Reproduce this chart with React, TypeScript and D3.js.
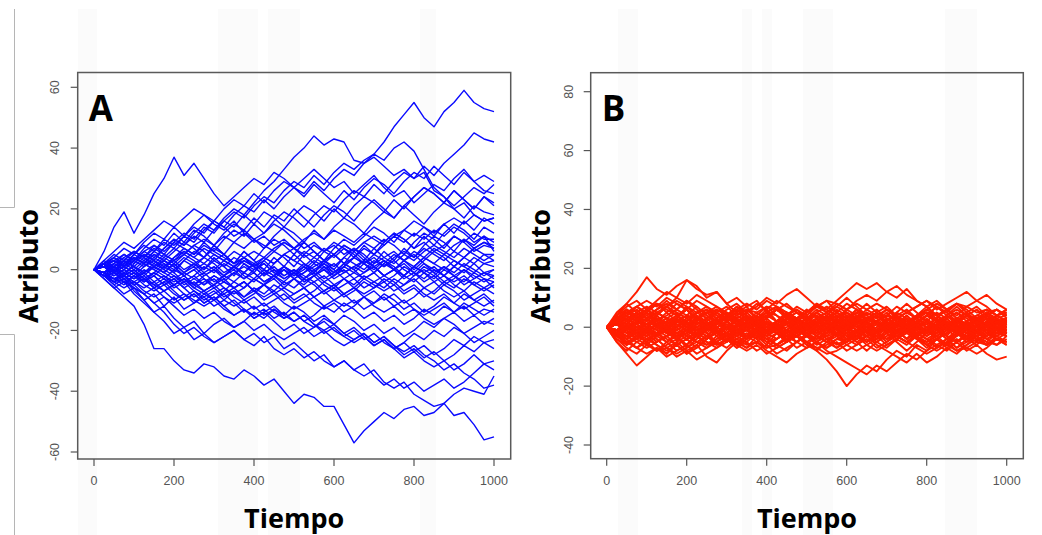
import React from "react";
import * as d3 from "d3";

// Time steps (every 25 units of Tiempo)
const tiempo: number[] = [0,25,50,75,100,125,150,175,200,225,250,275,300,325,350,375,400,425,450,475,500,525,550,575,600,625,650,675,700,725,750,775,800,825,850,875,900,925,950,975,1000];

const ticksX: number[] = [0, 200, 400, 600, 800, 1000];
const ticksYA: number[] = [-60, -40, -20, 0, 20, 40, 60];
const ticksYB: number[] = [-40, -20, 0, 20, 40, 60, 80];

// Panel A: Brownian-motion trajectories
const trayectoriasA: number[][] = [
  [0,2,-1,3,6,4,8,5,9,12,10,14,12,16,19,17,21,24,22,26,29,27,31,28,32,35,33,36,38,42,47,51,55,50,47,52,55,59,55,53,52],
  [0,6,14,19,12,18,25,30,37,31,35,30,25,21,24,27,30,28,32,30,27,30,33,30,27,29,25,28,31,27,24,26,22,25,28,26,30,33,29,31,29],
  [0,-2,1,4,2,5,3,7,10,8,12,15,13,17,20,18,22,26,29,33,37,40,44,41,43,42,36,35,37,34,31,33,30,32,26,24,20,22,18,16,17],
  [0,3,1,-2,2,5,3,0,4,7,5,9,6,10,13,11,15,12,16,19,17,14,18,21,19,23,26,24,28,25,29,32,30,34,31,35,38,41,45,43,42],
  [0,2,4,1,5,8,6,10,8,11,9,13,16,14,18,21,19,23,20,24,27,25,29,26,30,33,31,35,38,36,40,42,39,33,27,24,21,24,27,25,28],
  [0,-1,2,5,3,7,10,8,12,9,13,11,8,12,15,13,17,14,18,16,20,17,14,18,21,19,16,20,23,20,17,21,24,27,25,22,26,23,20,24,22],
  [0,1,-2,0,3,1,4,2,-1,3,6,4,8,5,9,12,10,7,11,14,12,9,13,10,14,17,15,12,16,19,17,21,18,15,19,22,20,17,21,19,18],
  [0,-1,1,-2,0,-3,-1,2,0,3,1,4,7,5,2,6,3,7,10,8,5,9,6,3,7,10,8,11,14,12,9,13,16,14,11,15,12,16,13,17,15],
  [0,2,0,3,1,-2,1,-1,2,5,3,0,4,1,-2,2,-1,3,6,4,1,5,2,6,9,7,4,8,5,9,12,10,7,11,8,12,15,13,10,14,12],
  [0,-2,-4,-1,-3,0,-2,1,-1,-4,-2,1,-1,2,0,3,1,-2,2,5,3,6,4,7,5,2,6,3,7,10,8,5,9,12,10,7,11,9,12,10,10],
  [0,1,3,1,4,2,5,3,6,9,7,4,8,5,2,6,3,0,4,1,5,2,-1,3,0,4,7,5,2,6,3,7,4,8,11,9,6,10,7,9,8],
  [0,-1,-3,-5,-2,-4,-1,-3,0,-2,-5,-3,-6,-4,-1,-3,0,2,-1,1,-2,0,3,1,-2,1,4,2,-1,2,5,3,0,3,6,4,1,4,7,5,5],
  [0,2,4,2,5,3,1,4,2,-1,1,-2,0,3,1,-2,-4,-1,-3,0,-2,1,-1,2,0,-3,-1,2,0,3,1,-2,1,4,2,5,3,1,4,2,3],
  [0,-2,0,-3,-1,-4,-2,-5,-3,-6,-4,-7,-5,-2,-4,-1,-3,0,-2,1,-1,2,0,-3,-1,2,0,3,1,-2,0,-3,-1,2,0,-2,1,-1,2,-1,0],
  [0,1,-1,2,0,3,6,4,7,5,8,6,3,5,2,4,1,-2,0,-3,-1,-4,-2,1,-1,2,0,-3,-1,-4,-2,1,-1,-4,-2,-5,-3,0,-2,-4,-2],
  [0,-1,1,-1,-3,-1,-4,-2,-5,-3,-6,-8,-6,-9,-7,-10,-8,-5,-7,-4,-6,-3,-5,-8,-6,-9,-7,-4,-6,-3,-5,-8,-6,-9,-7,-4,-6,-3,-5,-7,-5],
  [0,2,5,3,6,4,2,5,3,0,2,-1,1,-2,0,-3,-1,-4,-2,-5,-3,-6,-4,-7,-5,-8,-6,-9,-7,-10,-8,-11,-9,-6,-8,-5,-7,-10,-8,-6,-8],
  [0,-2,-4,-6,-4,-7,-9,-7,-10,-8,-11,-9,-12,-10,-7,-9,-6,-8,-5,-7,-10,-8,-11,-13,-11,-14,-12,-9,-11,-8,-10,-13,-11,-14,-12,-9,-11,-8,-10,-12,-10],
  [0,1,-1,-3,-1,-4,-2,-5,-3,-6,-9,-7,-10,-8,-11,-14,-12,-15,-13,-16,-14,-17,-15,-12,-14,-11,-13,-16,-14,-17,-15,-18,-16,-13,-15,-12,-14,-11,-13,-15,-13],
  [0,-1,-3,-2,-5,-3,-6,-4,-7,-10,-8,-11,-9,-12,-15,-13,-16,-14,-17,-20,-18,-21,-19,-16,-18,-15,-17,-20,-18,-21,-19,-22,-20,-17,-19,-16,-18,-21,-19,-17,-18],
  [0,-2,-5,-8,-6,-10,-14,-12,-16,-19,-17,-21,-18,-16,-19,-17,-14,-16,-13,-15,-12,-14,-17,-15,-18,-21,-19,-22,-25,-23,-26,-24,-21,-23,-20,-22,-19,-21,-24,-22,-20],
  [0,1,3,1,-1,-3,-5,-3,-6,-4,-7,-9,-7,-10,-12,-10,-13,-11,-14,-16,-14,-17,-19,-17,-20,-22,-20,-23,-21,-24,-26,-24,-27,-25,-28,-26,-23,-25,-22,-24,-23],
  [0,-2,-4,-3,-6,-8,-11,-9,-12,-15,-13,-16,-14,-17,-19,-17,-20,-18,-21,-23,-21,-19,-22,-20,-23,-25,-23,-21,-24,-22,-25,-28,-26,-29,-27,-30,-28,-25,-27,-24,-26],
  [0,1,-1,-4,-2,-5,-7,-5,-8,-10,-8,-11,-9,-12,-10,-13,-15,-13,-16,-14,-17,-15,-18,-21,-19,-22,-24,-22,-25,-23,-26,-29,-27,-30,-32,-30,-33,-31,-28,-31,-30],
  [0,-3,-6,-4,-8,-11,-14,-17,-21,-19,-23,-21,-24,-22,-20,-23,-21,-24,-22,-26,-24,-27,-30,-28,-32,-30,-33,-35,-33,-37,-39,-37,-41,-43,-45,-44,-48,-47,-51,-56,-55],
  [0,-3,-6,-9,-12,-18,-26,-26,-30,-33,-34,-31,-32,-35,-36,-33,-35,-38,-36,-40,-44,-41,-42,-45,-45,-51,-57,-53,-50,-47,-49,-46,-45,-48,-47,-44,-41,-39,-40,-41,-35],
  [0,-1,-4,-2,-5,-8,-11,-14,-18,-21,-19,-22,-24,-22,-20,-23,-25,-22,-26,-28,-26,-29,-27,-30,-32,-30,-33,-31,-35,-38,-36,-39,-37,-40,-38,-36,-39,-37,-34,-31,-33],
  [0,2,0,-2,-4,-2,-5,-7,-5,-8,-10,-12,-10,-13,-15,-13,-16,-14,-12,-15,-17,-15,-18,-20,-18,-21,-23,-21,-24,-22,-25,-27,-25,-28,-30,-33,-31,-34,-36,-39,-38],
  [0,1,4,7,5,9,12,10,14,11,15,18,16,20,23,21,25,22,26,29,27,24,28,25,22,26,23,27,30,28,25,29,32,30,34,31,28,32,29,26,25],
  [0,-1,2,0,3,6,4,7,10,8,11,9,13,16,14,18,15,19,17,14,18,21,19,16,20,17,21,24,22,19,23,20,24,27,25,22,26,23,20,24,21],
  [0,3,6,9,7,10,13,16,14,17,20,18,15,13,16,12,9,11,8,10,7,9,6,3,5,2,4,7,5,8,11,9,12,10,13,11,14,12,9,11,6],
  [0,-2,-5,-3,-7,-10,-8,-12,-9,-13,-11,-8,-10,-7,-4,-6,-3,-5,-2,-4,-1,-3,0,2,-1,1,4,2,5,3,0,2,-1,-3,0,-2,1,4,2,5,3],
  [0,2,-1,1,4,2,6,9,7,11,14,12,16,14,11,13,10,12,15,13,10,7,9,6,8,5,7,4,1,3,0,-2,1,-1,-4,-2,-5,-7,-4,-6,-4],
  [0,-1,1,3,1,4,1,-1,2,-1,-3,-5,-2,-4,-6,-4,-7,-5,-8,-6,-3,-5,-2,0,-2,1,-1,-3,-1,2,0,3,6,4,7,5,8,10,8,11,9],
  [0,-2,-1,-3,-5,-3,-6,-4,-2,-5,-3,-1,-4,-2,1,-1,2,4,2,5,3,1,4,2,5,8,6,9,7,4,6,3,5,2,-1,1,-2,0,-3,-1,-3],
  [0,1,0,2,4,2,0,3,1,-2,0,-3,-5,-3,-6,-9,-7,-10,-8,-11,-13,-11,-9,-12,-10,-8,-11,-9,-12,-14,-12,-15,-13,-16,-18,-16,-14,-17,-15,-18,-16],
  [0,-1,-2,0,-2,1,3,1,4,6,4,7,5,3,6,4,2,-1,1,-2,0,-2,-4,-2,-5,-3,-6,-8,-6,-4,-7,-5,-3,-6,-4,-7,-9,-7,-10,-8,-11],
  [0,2,1,-1,1,-1,2,0,-2,-4,-2,-5,-3,-6,-8,-6,-3,-5,-2,0,-3,-1,1,3,1,4,2,0,3,1,4,6,4,7,5,3,6,4,7,9,7],
  [0,-1,-3,-2,-4,-6,-4,-7,-5,-3,-5,-2,0,-2,1,3,1,4,2,5,7,5,8,6,4,7,5,2,4,1,3,0,-2,1,-1,-4,-2,-5,-3,-1,-2],
  [0,2,3,5,3,6,8,6,9,7,5,8,6,4,2,4,1,3,0,-2,0,-3,-1,-4,-2,0,-3,-1,1,-2,0,3,1,4,2,0,3,1,-1,2,1],
  [0,-2,-1,1,-1,2,0,-2,-4,-2,-5,-7,-5,-8,-6,-4,-7,-9,-7,-10,-8,-6,-9,-7,-5,-8,-6,-3,-5,-7,-5,-2,-4,-1,-3,0,-2,-4,-1,-3,-4],
  [0,1,3,1,3,5,3,1,3,6,4,2,5,3,1,4,6,4,7,9,7,10,12,10,13,11,9,12,10,8,11,13,11,14,12,15,17,15,18,16,17],
  [0,-1,0,-2,0,-3,-1,-3,-5,-3,-6,-4,-2,-4,-6,-4,-7,-5,-3,-6,-8,-6,-9,-7,-10,-12,-10,-13,-11,-9,-12,-10,-13,-15,-13,-11,-14,-12,-15,-13,-14],
  [0,2,0,2,4,2,5,3,1,4,2,4,2,-1,1,-1,2,0,-2,1,-1,1,-2,0,-3,-1,1,-1,2,4,2,5,3,6,8,6,4,7,5,3,5],
  [0,-2,-3,-1,-3,-1,1,-1,-3,-1,2,0,3,1,4,2,0,2,-1,-3,-1,-4,-2,-5,-7,-5,-3,-6,-4,-2,-4,-7,-5,-8,-10,-8,-11,-13,-11,-9,-12],
  [0,1,2,4,6,4,7,5,3,5,8,10,8,11,9,7,10,8,6,9,7,4,6,3,5,8,6,9,11,9,12,10,7,9,6,8,11,9,6,8,7],
  [0,-1,-3,-4,-6,-8,-6,-9,-11,-9,-7,-10,-8,-6,-9,-11,-9,-12,-10,-8,-11,-9,-7,-4,-6,-3,-5,-2,-4,-6,-3,-5,-2,0,-2,1,-1,2,0,-2,0],
  [0,2,1,3,1,-1,1,3,1,-2,0,2,0,-3,-1,1,-1,-4,-2,0,-3,-1,2,0,2,-1,1,3,1,-2,0,-2,1,-1,1,-2,-4,-2,-5,-3,-6],
];

// Panel B: Ornstein-Uhlenbeck trajectories
const trayectoriasB: number[][] = [
  [0,4,8,12,17,13,11,14,16,13,11,12,8,5,7,3,6,2,4,0,3,-1,2,5,3,0,2,-2,1,3,0,-3,-1,2,0,3,1,-2,1,-1,2],
  [0,-5,-9,-13,-10,-7,-9,-5,-8,-6,-10,-12,-8,-5,-7,-3,-6,-2,-4,-1,-3,1,-2,0,-3,-1,2,-1,1,-2,0,-3,-1,-4,-2,0,-2,1,-1,-3,-1],
  [0,2,5,3,6,4,1,3,0,2,5,3,6,8,5,7,10,8,11,13,10,7,9,5,3,6,2,4,1,3,-1,1,-2,0,2,-1,1,3,0,2,0],
  [0,-2,-4,-1,-3,0,-2,1,-1,-3,0,-2,1,-1,-3,-5,-2,-4,-1,-3,-6,-8,-11,-15,-20,-16,-13,-15,-11,-8,-10,-6,-8,-4,-6,-2,-4,-1,-3,0,-2],
  [0,3,1,4,2,5,3,0,2,-1,1,3,0,2,4,1,3,6,4,7,5,8,6,9,12,15,13,15,12,10,13,9,7,4,6,3,5,2,4,1,3],
  [0,-1,-3,0,-2,1,-1,-4,-2,0,-2,-5,-3,-1,-3,0,-2,-4,-2,-5,-7,-5,-8,-10,-12,-14,-16,-13,-15,-12,-9,-11,-8,-6,-8,-5,-3,-5,-2,0,-2],
  [0,1,-1,2,0,-2,0,3,1,-1,1,-1,-3,-1,1,-1,2,0,-2,0,-3,-1,1,-1,-3,-5,-3,-6,-8,-10,-12,-9,-12,-10,-7,-9,-6,-4,-6,-3,-5],
  [0,2,4,6,3,5,7,4,6,3,5,2,4,1,3,0,2,-1,1,3,0,2,4,1,3,5,2,4,6,3,5,7,9,6,8,10,12,9,11,8,6],
  [0,-2,0,-3,-1,1,-1,-3,-1,1,-1,2,0,-2,0,-3,-1,1,-1,-3,-1,1,-1,-3,-1,2,0,-2,0,-3,-5,-3,-6,-4,-7,-5,-8,-6,-9,-11,-10],
  [0,-3,-1,-4,-2,-5,-3,-6,-4,-2,-4,-1,-3,-5,-7,-5,-8,-10,-12,-9,-7,-5,-7,-4,-2,-4,-1,-3,0,-2,1,-1,-3,-1,1,-1,-3,-1,1,-1,-2],
  [0,2,1,4,6,9,12,10,16,14,10,12,8,10,7,9,5,7,4,6,3,5,2,4,1,3,0,2,-1,1,3,0,2,-1,1,3,0,2,4,1,3],
  [0,1,3,1,-1,1,3,5,3,1,3,5,2,4,6,3,5,2,4,6,4,7,5,8,6,9,11,9,12,14,11,9,7,9,6,8,5,7,4,6,4],
  [0,2,-1,1,3,1,-2,0,2,4,2,5,3,1,3,0,-2,0,2,-1,1,3,1,4,2,0,-2,0,3,1,-1,1,4,2,0,2,-1,1,3,1,0],
  [0,-1,1,-2,0,-3,-5,-3,-1,-3,0,-2,-4,-2,1,-1,-3,-1,2,0,-2,-4,-2,0,2,0,-3,-1,1,-1,-4,-2,0,-2,1,-1,-3,-1,2,0,-1],
  [0,3,5,7,5,8,6,4,6,3,5,7,5,3,5,2,4,6,4,2,4,1,3,5,3,6,4,2,4,7,5,3,5,2,4,6,4,2,5,3,4],
  [0,-3,-5,-7,-5,-8,-6,-4,-6,-3,-5,-7,-5,-3,-5,-2,-4,-6,-4,-7,-5,-3,-5,-2,-4,-6,-4,-7,-5,-3,-5,-2,-4,-6,-4,-7,-5,-3,-6,-4,-5],
  [0,1,3,5,7,5,3,1,-1,-3,-1,1,3,5,3,1,-1,1,3,5,3,6,4,2,0,-2,0,2,4,2,0,-2,-4,-2,0,2,4,2,0,-2,0],
  [0,-1,-3,-5,-7,-5,-3,-1,1,3,1,-1,-3,-5,-3,-1,1,-1,-3,-5,-3,-6,-4,-2,0,2,0,-2,-4,-2,0,2,4,2,0,-2,-4,-2,0,2,0],
  [0,2,4,2,0,2,5,8,6,9,7,5,7,4,2,4,1,-1,1,-2,0,2,0,3,5,3,6,8,6,4,6,3,1,3,0,-2,0,2,4,2,3],
  [0,-2,-4,-2,0,-2,-5,-8,-6,-9,-7,-5,-7,-4,-2,-4,-1,1,-1,2,0,-2,0,-3,-5,-3,-6,-8,-6,-4,-6,-3,-1,-3,0,2,0,-2,-4,-2,-3],
  [0,1,0,2,1,3,1,4,2,5,3,6,4,7,5,8,6,9,7,5,3,4,2,0,1,-1,-3,-2,-4,-3,-1,-2,0,1,-1,2,0,3,1,4,2],
  [0,-1,0,-2,-1,-3,-1,-4,-2,-5,-3,-6,-4,-7,-5,-8,-6,-9,-7,-5,-3,-4,-2,0,-1,1,3,2,4,3,1,2,0,-1,1,-2,0,-3,-1,-4,-2],
  [0,3,1,-2,0,-3,-1,2,4,1,3,0,-2,1,-1,2,4,2,5,3,1,-1,1,-2,0,3,1,-1,2,4,2,0,-2,0,3,5,3,1,-1,1,0],
  [0,-3,-1,2,0,3,1,-2,-4,-1,-3,0,2,-1,1,-2,-4,-2,-5,-3,-1,1,-1,2,0,-3,-1,1,-2,-4,-2,0,2,0,-3,-5,-3,-1,1,-1,0],
  [0,4,6,3,5,2,0,-2,0,-3,-1,1,4,6,8,6,9,7,5,3,0,-2,0,3,6,8,6,4,1,-1,1,4,6,8,6,3,1,-1,2,4,6],
  [0,-4,-6,-3,-5,-2,0,2,0,3,1,-1,-4,-6,-8,-6,-9,-7,-5,-3,0,2,0,-3,-6,-8,-6,-4,-1,1,-1,-4,-6,-8,-6,-3,-1,1,-2,-4,-6],
  [0,2,0,-2,-4,-6,-8,-6,-9,-7,-4,-2,0,2,4,2,0,-2,-1,1,3,5,7,5,8,6,3,1,-1,-3,-5,-3,-6,-4,-2,0,2,4,6,4,5],
  [0,-2,0,2,4,6,8,6,9,7,4,2,0,-2,-4,-2,0,2,1,-1,-3,-5,-7,-5,-8,-6,-3,-1,1,3,5,3,6,4,2,0,-2,-4,-6,-4,-5],
  [0,1,-1,0,-2,1,-1,2,0,-1,1,-2,0,-1,2,0,1,-1,0,2,-1,1,0,-2,1,-1,0,2,-1,1,-1,0,2,0,-1,1,-2,0,1,-1,0],
  [0,3,5,4,6,8,7,9,7,5,6,4,2,3,1,-1,0,-2,-4,-3,-5,-7,-6,-4,-5,-3,-1,-2,0,2,1,3,5,4,6,8,7,5,6,4,5],
  [0,-3,-5,-4,-6,-8,-7,-9,-7,-5,-6,-4,-2,-3,-1,1,0,2,4,3,5,7,6,4,5,3,1,2,0,-2,-1,-3,-5,-4,-6,-8,-7,-5,-6,-4,-5],
  [0,2,3,1,-1,-2,0,2,1,3,5,6,4,2,1,3,5,4,2,0,-1,1,3,2,0,-2,-3,-1,1,0,2,4,5,3,1,0,2,4,3,1,2],
  [0,-2,-3,-1,1,2,0,-2,-1,-3,-5,-6,-4,-2,-1,-3,-5,-4,-2,0,1,-1,-3,-2,0,2,3,1,-1,0,-2,-4,-5,-3,-1,0,-2,-4,-3,-1,-2],
  [0,1,4,7,9,7,10,8,6,3,1,-1,-3,-1,1,-2,-4,-6,-4,-2,1,3,5,7,5,2,0,-2,1,3,5,7,9,7,4,2,0,-2,-4,-2,-3],
  [0,-1,-4,-7,-9,-7,-10,-8,-6,-3,-1,1,3,1,-1,2,4,6,4,2,-1,-3,-5,-7,-5,-2,0,2,-1,-3,-5,-7,-9,-7,-4,-2,0,2,4,2,3],
  [0,2,5,3,1,4,7,10,8,11,9,7,4,6,3,1,-1,1,-2,0,2,5,3,6,4,1,-1,-4,-2,1,-1,2,4,7,5,8,6,3,5,2,1],
  [0,-2,-5,-3,-1,-4,-7,-10,-8,-11,-9,-7,-4,-6,-3,-1,1,-1,2,0,-2,-5,-3,-6,-4,-1,1,4,2,-1,1,-2,-4,-7,-5,-8,-6,-3,-5,-2,-1],
  [0,1,2,0,-1,1,3,2,4,3,1,0,2,4,6,5,7,6,4,3,5,7,9,8,6,4,3,5,3,1,2,0,-1,1,0,2,4,3,5,6,4],
  [0,-1,-2,0,1,-1,-3,-2,-4,-3,-1,0,-2,-4,-6,-5,-7,-6,-4,-3,-5,-7,-9,-8,-6,-4,-3,-5,-3,-1,-2,0,1,-1,0,-2,-4,-3,-5,-6,-4],
  [0,4,2,5,3,0,2,-1,1,-2,-4,-1,-3,0,2,5,3,6,4,1,3,0,-2,1,-1,-3,-5,-2,-4,-1,1,4,2,5,3,0,-2,1,-1,2,0],
  [0,3,-1,2,5,2,-1,3,6,2,-1,2,-2,1,4,1,-2,2,5,2,-1,3,0,-3,1,4,1,-2,2,-1,-4,0,3,0,-3,1,4,1,-2,1,3],
  [0,-3,1,-2,-5,-2,1,-3,-6,-2,1,-2,2,-1,-4,-1,2,-2,-5,-2,1,-3,0,3,-1,-4,-1,2,-2,1,4,0,-3,0,3,-1,-4,-1,2,-1,-3],
  [0,5,8,5,3,6,9,6,4,7,4,1,4,7,4,1,-2,1,4,1,-2,-5,-2,1,-2,-5,-8,-5,-2,1,4,1,-2,1,4,7,4,1,4,6,3],
  [0,-5,-8,-5,-3,-6,-9,-6,-4,-7,-4,-1,-4,-7,-4,-1,2,-1,-4,-1,2,5,2,-1,2,5,8,5,2,-1,-4,-1,2,-1,-4,-7,-4,-1,-4,-6,-3],
  [0,2,6,3,0,-3,0,3,7,4,1,-2,-5,-2,1,4,7,4,1,-2,-5,-8,-5,-2,1,4,1,-2,-5,-2,1,4,7,4,1,-2,-5,-2,1,3,1],
  [0,-2,-6,-3,0,3,0,-3,-7,-4,-1,2,5,2,-1,-4,-7,-4,-1,2,5,8,5,2,-1,-4,-1,2,5,2,-1,-4,-7,-4,-1,2,5,2,-1,-3,-1],
  [0,1,4,2,5,8,5,2,0,-3,-6,-3,0,3,0,-3,-1,2,5,3,6,3,0,-2,-5,-2,1,-1,2,5,8,5,2,-1,-4,-1,2,0,3,1,2],
  [0,-1,-4,-2,-5,-8,-5,-2,0,3,6,3,0,-3,0,3,1,-2,-5,-3,-6,-3,0,2,5,2,-1,1,-2,-5,-8,-5,-2,1,4,1,-2,0,-3,-1,-2],
  [0,2,0,3,1,4,7,5,3,0,2,-1,-3,-6,-4,-1,-3,0,3,5,3,1,4,7,10,7,4,6,3,0,-2,1,-1,-4,-2,1,-1,2,0,-2,1],
  [0,-2,0,-3,-1,-4,-7,-5,-3,0,-2,1,3,6,4,1,3,0,-3,-5,-3,-1,-4,-7,-4,-1,-3,0,2,5,3,1,4,2,0,-2,1,-1,2,4,2],
  [0,3,6,4,1,-1,2,4,1,-2,0,3,5,2,-1,1,4,6,3,0,-2,1,3,0,-3,-1,2,4,1,-2,0,3,5,2,-1,1,4,6,3,0,2],
  [0,-3,-6,-4,-1,1,-2,-4,-1,2,0,-3,-5,-2,1,-1,-4,-6,-3,0,2,-1,-3,0,3,1,-2,-4,-1,2,0,-3,-5,-2,1,-1,-4,-6,-3,0,-2],
  [0,1,-2,-4,-2,-5,-3,0,3,5,7,4,2,-1,1,-2,-5,-7,-5,-2,0,3,5,3,0,-2,-5,-3,-6,-4,-1,2,4,7,5,2,-1,-3,-1,1,-1],
  [0,-1,2,4,2,5,3,0,-3,-5,-7,-4,-2,1,-1,2,5,7,5,2,0,-3,-5,-3,0,2,5,3,6,4,1,-2,-4,-7,-5,-2,1,3,1,-1,1],
  [0,2,5,7,4,2,4,6,9,6,3,5,2,0,3,1,-2,0,-3,-1,2,4,1,-1,-4,-2,-5,-3,0,3,1,-2,0,3,6,4,7,9,7,4,6],
  [0,-2,-5,-7,-4,-2,-4,-6,-9,-6,-3,-5,-2,0,-3,-1,2,0,3,1,-2,-4,-1,1,4,2,5,3,0,-3,-1,2,0,-3,-6,-4,-7,-9,-7,-4,-6],
  [0,1,-1,1,3,0,-2,1,-1,-3,0,2,-1,1,3,0,-2,0,2,-1,-3,0,2,0,-2,1,3,1,-1,-3,0,2,0,-2,1,3,0,-2,0,2,1],
  [0,-1,1,-1,-3,0,2,-1,1,3,0,-2,1,-1,-3,0,2,0,-2,1,3,0,-2,0,2,-1,-3,-1,1,3,0,-2,0,2,-1,-3,0,2,0,-2,-1],
  [0,4,7,9,6,3,1,4,2,-1,-3,0,-2,-5,-3,0,3,6,8,5,2,-1,1,-2,-4,-1,2,5,7,4,1,-1,2,0,-3,-5,-2,1,3,0,-2],
  [0,-4,-7,-9,-6,-3,-1,-4,-2,1,3,0,2,5,3,0,-3,-6,-8,-5,-2,1,-1,2,4,1,-2,-5,-7,-4,-1,1,-2,0,3,5,2,-1,-3,0,2],
];

const W = 1042;
const H = 535;

type Panel = {
  letter: string;
  frame: { x0: number; y0: number; x1: number; y1: number };
  xRange: [number, number];
  yDomain: [number, number];
  yRange: [number, number];
  yTicks: number[];
  data: number[][];
  color: string;
  width: number;
  yLabelX: number;
  titleYX: number;
};

const panels: Panel[] = [
  {
    letter: "A",
    frame: { x0: 77.7, y0: 72.5, x1: 510.7, y1: 459 },
    xRange: [94, 494],
    yDomain: [-60, 60],
    yRange: [452, 87.3],
    yTicks: ticksYA,
    data: trayectoriasA,
    color: "#0a0aff",
    width: 1.4,
    yLabelX: 54.5,
    titleYX: 27,
  },
  {
    letter: "B",
    frame: { x0: 590.7, y0: 72.7, x1: 1023.3, y1: 458.7 },
    xRange: [606.7, 1006.7],
    yDomain: [-40, 80],
    yRange: [445, 91.7],
    yTicks: ticksYB,
    data: trayectoriasB,
    color: "#ff1e00",
    width: 1.9,
    yLabelX: 569,
    titleYX: 539,
  },
];

const stripes: [number, number][] = [
  [78, 97], [218, 258], [268, 300], [420, 436], [618, 638], [742, 752], [762, 772], [803, 833], [945, 977],
];

function PanelView({ p }: { p: Panel }) {
  const x = d3.scaleLinear().domain([0, 1000]).range(p.xRange);
  const y = d3.scaleLinear().domain(p.yDomain).range(p.yRange);
  const line = d3
    .line<number>()
    .x((_, i) => x(tiempo[i]))
    .y((d) => y(d))
    .defined((_, i) => i < tiempo.length);
  const f = p.frame;
  const tickColor = "#555";
  return (
    <g>
      {p.data.map((s, k) => (
        <path key={k} d={line(s) || ""} fill="none" stroke={p.color} strokeWidth={p.width} strokeLinejoin="round" />
      ))}
      <rect x={f.x0} y={f.y0} width={f.x1 - f.x0} height={f.y1 - f.y0} fill="none" stroke="#5a5a5a" strokeWidth={1.5} />
      {ticksX.map((t) => (
        <g key={"x" + t}>
          <line x1={x(t)} x2={x(t)} y1={f.y1} y2={f.y1 + 7} stroke={tickColor} strokeWidth={1.2} />
          <text x={x(t)} y={481} textAnchor="middle" dominantBaseline="central" fontFamily="'Liberation Sans', Arial, sans-serif" fontSize={12.5} fill={tickColor}>
            {t}
          </text>
        </g>
      ))}
      {p.yTicks.map((t) => (
        <g key={"y" + t}>
          <line x1={f.x0 - 7} x2={f.x0} y1={y(t)} y2={y(t)} stroke={tickColor} strokeWidth={1.2} />
          <text transform={`translate(${p.yLabelX},${y(t)}) rotate(-90)`} textAnchor="middle" dominantBaseline="central" fontFamily="'Liberation Sans', Arial, sans-serif" fontSize={12.5} fill={tickColor}>
            {t}
          </text>
        </g>
      ))}
      <text x={f.x0 + 11} y={121} fontFamily="'Open Sans', sans-serif" fontWeight={700} fontSize={35} fill="#000">
        {p.letter}
      </text>
      <text x={(f.x0 + f.x1) / 2} y={528} textAnchor="middle" fontFamily="'Open Sans', sans-serif" fontWeight={700} fontSize={27} fill="#000">
        Tiempo
      </text>
      <text transform={`translate(${p.titleYX},266) rotate(-90)`} textAnchor="middle" dominantBaseline="central" fontFamily="'Open Sans', sans-serif" fontWeight={700} fontSize={27} fill="#000">
        Atributo
      </text>
    </g>
  );
}

export default function App() {
  return (
    <div style={{ position: "absolute", left: 0, top: 0 }}>
      <svg width={W} height={H} style={{ display: "block", background: "#fff" }}>
        <rect x={0} y={0} width={W} height={H} fill="#fff" />
        {stripes.map(([a, b], i) => (
          <rect key={i} x={a} y={9} width={b - a} height={H - 9} fill="#fbfbfb" />
        ))}
        <g stroke="#b5b5b5" strokeWidth={1}>
          <line x1={14.5} x2={14.5} y1={9} y2={207.5} />
          <line x1={0} x2={14.5} y1={207.5} y2={207.5} />
          <line x1={0} x2={14.5} y1={334.5} y2={334.5} />
          <line x1={14.5} x2={14.5} y1={334.5} y2={H} />
        </g>
        {panels.map((p) => (
          <PanelView key={p.letter} p={p} />
        ))}
      </svg>
    </div>
  );
}
